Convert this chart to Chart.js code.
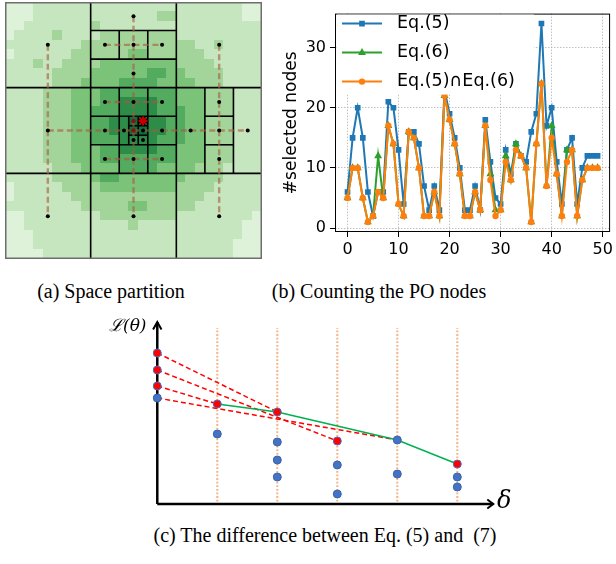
<!DOCTYPE html>
<html>
<head>
<meta charset="utf-8">
<script src="https://cdn.jsdelivr.net/npm/chart.js@4.4.0/dist/chart.umd.min.js"></script>
<style>
  body { margin: 0; background: #fff; }
  #page { position: relative; width: 616px; height: 564px; overflow: hidden; background: #fff; }
  canvas { position: absolute; }
  .cap { position: absolute; font-family: "Liberation Serif", serif; font-size: 20px; line-height: 20px; text-align: center; white-space: pre; color: #000; }
  .math { position: absolute; font-family: "DejaVu Serif", "Liberation Serif", serif; font-style: italic; color: #000; white-space: nowrap; }
</style>
</head>
<body>
<div id="page">
  <canvas id="chart_partition" width="257" height="257" style="left:5px;top:2px"></canvas>
  <canvas id="chart_count" width="336" height="262" style="left:280px;top:0px"></canvas>
  <canvas id="chart_diff" width="380" height="195" style="left:140px;top:315px"></canvas>
  <div class="cap" style="left:0px;top:281px;width:222px">(a) Space partition</div>
  <div class="cap" style="left:229px;top:281px;width:300px">(b) Counting the PO nodes</div>
  <div class="cap" style="left:75px;top:525px;width:500px">(c) The difference between Eq. (5) and  (7)</div>
  <div class="math" style="left:109px;top:315px;font-size:17px;line-height:20px">ℒ(θ)</div>
  <div class="math" style="left:497px;top:488px;font-size:24px;line-height:24px">δ</div>
</div>
<script>
// ---------- (b) counting the PO nodes ----------
const runIdx = [0, 1, 2, 3, 4, 5, 6, 7, 8, 9, 10, 11, 12, 13, 14, 15, 16, 17, 18, 19,
  20, 21, 22, 23, 24, 25, 26, 27, 28, 29, 30, 31, 32, 33, 34, 35, 36, 37, 38, 39,
  40, 41, 42, 43, 44, 45, 46, 47, 48, 49];
const eq5Nodes = [6, 15, 20, 15, 6, 2, 6, 6, 21, 20, 13, 4, 16, 16, 14, 7, 3, 7, 3, 23,
  19, 15, 10, 3, 3, 7, 3, 18, 11, 5, 4, 13, 9, 14, 12, 11, 16, 19, 34, 17,
  20, 11, 4, 13, 15, 4, 10, 12, 12, 12];
const eq6Nodes = [5, 10, 10, 5, 1, 2, 12, 5, 17, 14, 4, 2, 16, 15, 10, 2, 2, 6, 2, 22,
  18, 14, 9, 2, 2, 6, 3, 17, 9, 3, 3, 12, 8, 14, 12, 10, 1, 14, 24, 7,
  17, 9, 2, 13, 13, 2, 8, 10, 10, 10];
const bothNodes = [5, 10, 10, 5, 1, 2, 6, 5, 17, 14, 4, 2, 16, 15, 10, 2, 2, 6, 2, 22,
  18, 14, 9, 2, 2, 6, 3, 17, 8, 2, 3, 11, 8, 13, 12, 10, 1, 14, 24, 7,
  15, 9, 2, 11, 13, 2, 8, 10, 10, 10];
const seriesNames = ['Eq.(5)', 'Eq.(6)', 'Eq.(5)∩Eq.(6)'];
const countTicks = [0, 10, 20, 30];

// ---------- (a) space partition ----------
// green level of the background field, one char per cell, 27 x 27 cells
const heatRows = [
  "000111111111111111111111100",
  "000111111111111122111111100",
  "001111111211111111111111111",
  "011112111122222222111111111",
  "111111112222222222221121111",
  "011111122222233222222111111",
  "111211222233333333222211111",
  "111112222333333443322221111",
  "111112223333444433332221111",
  "111122233344444444333222111",
  "111122233344555544333222111",
  "111122233444555544433222111",
  "111122233445566554433222111",
  "111122233445566554433222111",
  "111122233444555544433222111",
  "111122233344555544333222111",
  "111122233344444444333222111",
  "111112223333444433332221111",
  "111112222344333333322221111",
  "011111222233333333222211111",
  "011111122222222222222111111",
  "111111112222233222221111111",
  "001111111122222222111111110",
  "001111111111121111111111100",
  "000111111111111111111111100",
  "000111111111111111111111000",
  "000011111111111111111111000"
];
// cell borders [x1, y1, x2, y2]
const partitionSegs = [
  [9, 0, 9, 27], [18, 0, 18, 27], [0, 9, 27, 9], [0, 18, 27, 18],
  [9, 3, 18, 3], [9, 6, 18, 6], [12, 3, 12, 6], [15, 3, 15, 6],
  [12, 9, 12, 18], [15, 9, 15, 18], [9, 12, 18, 12], [9, 15, 18, 15],
  [21, 9, 21, 18], [24, 9, 24, 18], [21, 12, 24, 12], [21, 15, 24, 15],
  [13, 12, 13, 15], [14, 12, 14, 15], [13, 13, 15, 13], [13, 14, 15, 14],
  [14.333, 12, 14.333, 13], [14.667, 12, 14.667, 13], [14, 12.333, 15, 12.333], [14, 12.667, 15, 12.667]
];
const treeSegs = [
  [4.5, 4.5, 4.5, 22.5], [4.5, 13.5, 25.5, 13.5], [13.5, 1.5, 13.5, 22.5], [22.5, 4.5, 22.5, 22.5],
  [10.5, 4.5, 16.5, 4.5], [10.5, 10.5, 16.5, 10.5], [10.5, 16.5, 16.5, 16.5]
];
const nodeX = [4.5, 4.5, 4.5, 22.5, 22.5, 13.5, 13.5, 10.5, 13.5, 16.5, 13.5,
  10.5, 13.5, 16.5, 10.5, 16.5, 10.5, 13.5, 16.5, 19.5, 25.5, 22.5, 22.5, 22.5,
  12.5, 13.5, 14.5, 14.5];
const nodeY = [4.5, 13.5, 22.5, 4.5, 22.5, 22.5, 1.5, 4.5, 4.5, 4.5, 7.5,
  10.5, 10.5, 10.5, 13.5, 13.5, 16.5, 16.5, 16.5, 13.5, 13.5, 10.5, 13.5, 16.5,
  13.5, 14.5, 13.5, 14.5];
const hotX = [13.5, 13.5];
const hotY = [12.5, 13.5];
const targetX = [14.5];
const targetY = [12.5];

// ---------- (c) difference between Eq.(5) and (7) ----------
const deltaCols = [1, 2, 3, 4, 5];
const candX = [0, 1, 2, 2, 2, 3, 3, 4, 4, 5, 5];
const candLoss = [10.6, 7.0, 6.2, 4.4, 2.7, 3.9, 1.0, 6.4, 3.0, 2.7, 1.7];
const pickX = [0, 0, 0, 1, 2, 3, 5];
const pickLoss = [15.1, 13.4, 11.8, 10.0, 9.2, 6.3, 4.0];
const hullX = [1, 2, 4, 5];
const hullLoss = [10.0, 9.2, 6.4, 4.0];
const chordStart = [15.1, 13.4, 11.8, 10.6];
const chordEndX = [2, 3, 1, 4];
const chordEndLoss = [9.2, 6.3, 10.0, 6.4];

Chart.defaults.animation = false;
Chart.defaults.responsive = false;
Chart.defaults.devicePixelRatio = 1;
Chart.defaults.plugins.legend.display = false;
Chart.defaults.plugins.tooltip.enabled = false;

function pts(xs, ys) {
  return xs.map((x, i) => ({x: x, y: ys[i]}));
}

function segLine(seg, color, width, dash, order) {
  return {
    data: [{x: seg[0], y: seg[1]}, {x: seg[2], y: seg[3]}],
    showLine: true, pointRadius: 0, borderColor: color, borderWidth: width,
    borderDash: dash, borderCapStyle: 'butt', order: order
  };
}

const frameBox = {
  id: 'frameBox',
  afterDatasetsDraw(chart, args, opts) {
    const a = chart.chartArea, ctx = chart.ctx;
    ctx.save();
    ctx.strokeStyle = opts.color || '#000';
    ctx.lineWidth = opts.width || 1;
    ctx.strokeRect(a.left + 0.5, a.top + 0.5, a.right - a.left - 1, a.bottom - a.top - 1);
    ctx.restore();
  }
};

const heatPalette = ['#def1d9', '#c5e6be', '#a3d59b', '#7cc37a', '#52ab5f', '#2d8c47', '#10703a'];

const heatCells = {
  id: 'heatCells',
  beforeDatasetsDraw(chart) {
    const ctx = chart.ctx, xs = chart.scales.x, ys = chart.scales.y;
    ctx.save();
    heatRows.forEach((row, r) => {
      for (let c = 0; c < row.length; c++) {
        const x1 = Math.floor(xs.getPixelForValue(c)), x2 = Math.ceil(xs.getPixelForValue(c + 1));
        const y1 = Math.floor(ys.getPixelForValue(r)), y2 = Math.ceil(ys.getPixelForValue(r + 1));
        ctx.fillStyle = heatPalette[+row[c]];
        ctx.fillRect(x1, y1, x2 - x1, y2 - y1);
      }
    });
    ctx.restore();
  }
};

const legendBox = {
  id: 'legendBox',
  afterDatasetsDraw(chart) {
    const ctx = chart.ctx, a = chart.chartArea;
    ctx.save();
    ctx.fillStyle = '#fff';
    ctx.fillRect(a.left + 2, a.top + 1, 197, 80);
    chart.data.datasets.forEach((ds, i) => {
      const y = a.top + 10 + 29 * i;
      ctx.strokeStyle = ds.borderColor;
      ctx.lineWidth = 2;
      ctx.beginPath();
      ctx.moveTo(a.left + 7, y);
      ctx.lineTo(a.left + 47, y);
      ctx.stroke();
      ctx.fillStyle = ds.backgroundColor;
      Chart.helpers.drawPoint(ctx, {pointStyle: ds.pointStyle, radius: ds.pointRadius, borderWidth: 1, rotation: 0}, a.left + 27, y);
      ctx.fillStyle = '#000';
      ctx.font = '17.5px "DejaVu Sans"';
      ctx.textBaseline = 'middle';
      ctx.textAlign = 'left';
      ctx.fillText(ds.label, a.left + 62, y);
    });
    ctx.restore();
  }
};

function createPartition() {
  let ds = [];
  partitionSegs.forEach(s => ds.push(segLine(s, '#000', 1.6, [], 4)));
  treeSegs.forEach(s => ds.push(segLine(s, 'rgba(170, 90, 65, 0.62)', 2.4, [6, 3.5], 3)));
  ds.push({data: pts(nodeX, nodeY), pointRadius: 2, backgroundColor: '#000', borderWidth: 0, order: 2});
  ds.push({data: pts(hotX, hotY), pointRadius: 2.2, backgroundColor: '#8b1010', borderWidth: 0, order: 1});
  ds.push({data: pts(targetX, targetY), pointStyle: 'star', pointRadius: 4.5, borderColor: '#c00000', borderWidth: 2, backgroundColor: '#c00000', order: 0});

  return new Chart('chart_partition', {
    type: 'scatter',
    data: {datasets: ds},
    options: {
      layout: {padding: 0, autoPadding: false},
      scales: {
        x: {display: false, min: 0, max: 27},
        y: {display: false, min: 0, max: 27, reverse: true}
      },
      plugins: {frameBox: {color: '#6e6e6e', width: 2}}
    },
    plugins: [heatCells, frameBox]
  });
}

function createCount() {
  const tickFont = {family: 'DejaVu Sans', size: 16};
  const gridOpts = {color: '#b0b0b0', lineWidth: 0.8, tickColor: '#000', tickLength: 5, tickWidth: 1};
  return new Chart('chart_count', {
    type: 'line',
    data: {
      datasets: [
        {label: seriesNames[0], data: pts(runIdx, eq5Nodes), borderColor: '#1f77b4', backgroundColor: '#1f77b4',
          pointStyle: 'rect', pointRadius: 2.6, borderWidth: 2, order: 3},
        {label: seriesNames[1], data: pts(runIdx, eq6Nodes), borderColor: '#2ca02c', backgroundColor: '#2ca02c',
          pointStyle: 'triangle', pointRadius: 2.6, borderWidth: 2, order: 2},
        {label: seriesNames[2], data: pts(runIdx, bothNodes), borderColor: '#ff7f0e', backgroundColor: '#ff7f0e',
          pointStyle: 'circle', pointRadius: 2.2, borderWidth: 2, order: 1}
      ]
    },
    options: {
      layout: {padding: {top: 3, right: 5, left: 0, bottom: 0}, autoPadding: false},
      scales: {
        x: {
          type: 'linear', min: -2.45, max: 51.45,
          afterFit: s => { s.height = 30; },
          ticks: {stepSize: 10, includeBounds: false, color: '#000', font: tickFont, padding: 3, maxRotation: 0},
          grid: gridOpts,
          border: {display: false, dash: [1.5, 1.5]}
        },
        y: {
          min: -0.65, max: 35.65,
          afterFit: s => { s.width = 55; },
          afterBuildTicks: s => { s.ticks = countTicks.map(v => ({value: v})); },
          ticks: {color: '#000', font: tickFont, padding: 4},
          grid: gridOpts,
          border: {display: false, dash: [1.5, 1.5]},
          title: {display: true, text: '#selected nodes', color: '#000',
            font: {family: 'DejaVu Sans', size: 17}, padding: {top: 1, bottom: 0}}
        }
      },
      plugins: {frameBox: {color: '#000', width: 1}}
    },
    plugins: [frameBox, legendBox]
  });
}

function createDiff() {
  let ds = [];
  deltaCols.forEach(c => ds.push(segLine([c, 0.25, c, 17.6], '#f4b183', 2, [1.8, 1.8], 6)));
  // axes with open arrow heads
  ds.push({data: [{x: 0, y: 0}, {x: 0, y: 18.2}], showLine: true, pointRadius: 0, borderColor: '#000', borderWidth: 2.5, order: 5});
  ds.push({data: [{x: 0, y: 0}, {x: 5.6, y: 0}], showLine: true, pointRadius: 0, borderColor: '#000', borderWidth: 2.5, order: 5});
  ds.push({data: [{x: -0.07, y: 17.45}, {x: 0, y: 18.2}, {x: 0.07, y: 17.45}], showLine: true, pointRadius: 0, borderColor: '#000', borderWidth: 2, order: 5});
  ds.push({data: [{x: 5.5, y: 0.45}, {x: 5.6, y: 0}, {x: 5.5, y: -0.45}], showLine: true, pointRadius: 0, borderColor: '#000', borderWidth: 2, order: 5});
  chordStart.forEach((l, i) => ds.push(segLine([0, l, chordEndX[i], chordEndLoss[i]], '#ff0000', 1.5, [5, 3], 4)));
  ds.push({data: pts(hullX, hullLoss), showLine: true, pointRadius: 0, borderColor: '#00b050', borderWidth: 1.5, order: 3});
  ds.push({data: pts(candX, candLoss), pointRadius: 4, backgroundColor: '#4472c4', borderColor: '#3a62a8', borderWidth: 1, order: 2});
  ds.push({data: pts(pickX, pickLoss), pointRadius: 4, backgroundColor: '#ff0000', borderColor: '#4472c4', borderWidth: 1, order: 1});

  return new Chart('chart_diff', {
    type: 'scatter',
    data: {datasets: ds},
    options: {
      layout: {padding: 0, autoPadding: false},
      scales: {
        x: {display: false, min: -0.288, max: 6.045},
        y: {display: false, min: -0.6, max: 18.9}
      }
    }
  });
}

createPartition();
createCount();
createDiff();
</script>
</body>
</html>
